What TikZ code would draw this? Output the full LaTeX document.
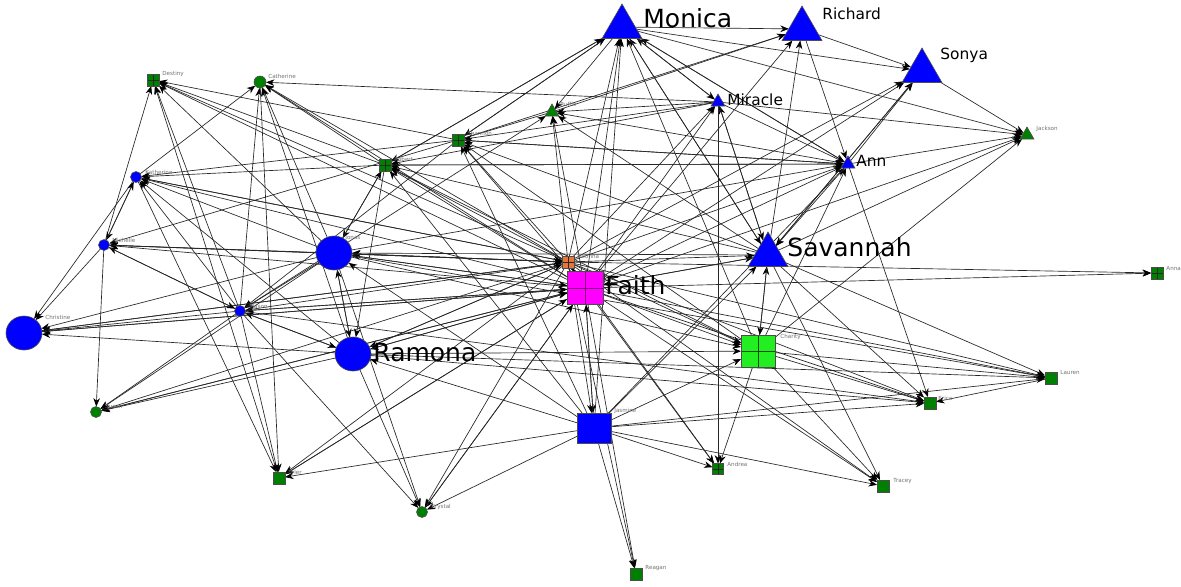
\documentclass[tikz,border=0pt]{standalone}
\usepackage{fontspec}
\setmainfont{DejaVu Sans}
\usetikzlibrary{shapes.geometric,arrows.meta}
\pgfdeclarelayer{bg}
\pgfsetlayers{bg,main}
\definecolor{bnode}{RGB}{0,0,255}
\definecolor{gnode}{RGB}{0,128,0}
\definecolor{mnode}{RGB}{255,0,255}
\definecolor{onode}{RGB}{232,117,58}
\definecolor{lnode}{RGB}{34,238,34}
\tikzset{
  xcross/.style={path picture={\draw[#1,line width=0.4pt] (path picture bounding box.north) -- (path picture bounding box.south) (path picture bounding box.west) -- (path picture bounding box.east);}},
  base/.style={inner sep=0pt, outer sep=0pt, draw=black!70, line width=0.3pt},
  sq/.style={base, rectangle, fill=gnode, minimum size=6pt},
  sqx/.style={sq, xcross=black!85},
  circ/.style={base, circle, minimum size=5.5pt},
  bigell/.style={base, ellipse, fill=bnode, minimum width=18pt, minimum height=17pt},
  bigtri/.style={base, regular polygon, regular polygon sides=3, fill=bnode, minimum size=23pt},
  smalltri/.style={base, regular polygon, regular polygon sides=3, minimum size=8pt},
  lnk/.style={draw=black!85, line width=0.33pt, -{Stealth[length=4.2pt,width=3.3pt,color=black]}},
  lblbig/.style={font=\fontsize{12.5}{14}\selectfont, inner sep=0pt, anchor=west},
  lblmed/.style={font=\fontsize{7.7}{9}\selectfont, inner sep=0pt, anchor=west},
  lbltiny/.style={font=\fontsize{2.8}{3}\selectfont, text=black!55, inner sep=0pt, anchor=west}
}
\begin{document}
\begin{tikzpicture}[x=0.5pt,y=-0.5pt]
\useasboundingbox (0,0) rectangle (1181,586);
% nodes
\node[bigtri] (monica) at (622,27) {};
\node[bigtri] (richard) at (802,29) {};
\node[bigtri] (sonya) at (922,71) {};
\node[bigtri] (savannah) at (768,255) {};
\node[smalltri, fill=bnode] (miracle) at (718,102) {};
\node[smalltri, fill=bnode] (ann) at (848,164) {};
\node[smalltri, fill=gnode] (jackson) at (1027,135) {};
\node[smalltri, fill=gnode] (ruffie) at (552,112) {};
\node[sqx] (shannon) at (458,140) {};
\node[sqx] (robert) at (385,165) {};
\node[sqx] (destiny) at (153,80) {};
\node[circ, fill=gnode, minimum size=6pt] (catherine) at (260,82) {};
\node[circ, fill=bnode] (katherine) at (136,177) {};
\node[circ, fill=bnode] (michelle) at (104,245) {};
\node[bigell] (christine) at (24,333) {};
\node[circ, fill=bnode] (mason) at (240,311) {};
\node[bigell] (jonas) at (334,253) {};
\node[bigell] (ramona) at (353,354) {};
\node[sqx, fill=onode] (deonna) at (568,262) {};
\node[base, rectangle, fill=mnode, minimum width=18pt, minimum height=16.5pt, xcross=black!50!mnode] (faith) at (585,288) {};
\node[base, rectangle, fill=lnode, minimum width=17pt, minimum height=16pt, xcross=black!40!gnode] (charity) at (758,351) {};
\node[base, rectangle, fill=bnode, minimum width=17pt, minimum height=15pt] (jasmine) at (594,428) {};
\node[sqx, minimum size=5.5pt] (andrea) at (718,469) {};
\node[sq] (tracey) at (883,486) {};
\node[sq] (erica) at (930,403) {};
\node[sq] (lauren) at (1051,378) {};
\node[sqx] (anna) at (1157,273) {};
\node[sq] (reagan) at (636,574) {};
\node[circ, fill=gnode] (krystal) at (422,512) {};
\node[sq] (tyler) at (279,478) {};
\node[circ, fill=gnode] (susan) at (96,412) {};
% labels
\node[lblbig] (lmonica) at (643,18) {Monica};
\node[lblbig] (lsavannah) at (787,247) {Savannah};
\node[lblbig] (lfaith) at (605,285) {Faith};
\node[lblbig] (lramona) at (373,353) {Ramona};
\node[lblmed] (lrichard) at (822,14) {Richard};
\node[lblmed] (lsonya) at (940,55) {Sonya};
\node[lblmed] (lmiracle) at (727,100) {Miracle};
\node[lblmed] (lann) at (856,161) {Ann};
\node[lbltiny] (ljackson) at (1036,129) {Jackson};
\node[lbltiny] (lruffie) at (560,104) {Ruffie};
\node[lbltiny] (lshannon) at (467,133) {Shannon};
\node[lbltiny] (lrobert) at (394,159) {Robert};
\node[lbltiny] (ldestiny) at (162,74) {Destiny};
\node[lbltiny] (lcatherine) at (268,76) {Catherine};
\node[lbltiny] (lkatherine) at (145,172) {Katherine};
\node[lbltiny] (lmichelle) at (112,240) {Michelle};
\node[lbltiny] (lchristine) at (45,317) {Christine};
\node[lbltiny] (lmason) at (249,306) {Mason};
\node[lbltiny] (ljonas) at (345,238) {Jonas};
\node[lbltiny] (ldeonna) at (577,256) {Deonna};
\node[lbltiny] (lcharity) at (780,337) {Charity};
\node[lbltiny] (ljasmine) at (614,411) {Jasmine};
\node[lbltiny] (landrea) at (727,464) {Andrea};
\node[lbltiny] (ltracey) at (893,481) {Tracey};
\node[lbltiny] (lerica) at (938,398) {Erica};
\node[lbltiny] (llauren) at (1060,372) {Lauren};
\node[lbltiny] (lanna) at (1166,268) {Anna};
\node[lbltiny] (lreagan) at (645,568) {Reagan};
\node[lbltiny] (lkrystal) at (431,507) {Krystal};
\node[lbltiny] (ltyler) at (288,473) {Tyler};
\node[lbltiny] (lsusan) at (105,406) {Susan};
% edges
\begin{pgfonlayer}{bg}
\fill[white] (0,0) rectangle (1181,586);
\foreach \a/\b in {
 michelle/destiny, mason/destiny, jonas/destiny, robert/destiny, shannon/destiny, deonna/destiny, faith/destiny, tyler/destiny,
 miracle/catherine, katherine/catherine, jonas/catherine, ramona/catherine, mason/catherine, faith/catherine, deonna/catherine, robert/catherine, catherine/tyler,
 robert/katherine, shannon/katherine, faith/katherine, deonna/katherine, jonas/katherine, mason/katherine, ramona/katherine, katherine/christine, katherine/michelle, michelle/katherine,
 deonna/michelle, faith/michelle, jonas/michelle, mason/michelle, michelle/christine, michelle/susan, ruffie/michelle,
 mason/christine, jonas/christine, faith/christine, deonna/christine, ramona/christine,
 jonas/mason, ramona/mason, faith/mason, deonna/mason, michelle/mason, mason/tyler, mason/krystal, mason/susan, mason/ramona, shannon/mason,
 deonna/jonas, faith/jonas, ramona/jonas, savannah/jonas, jonas/ramona, jonas/susan, robert/jonas, jonas/robert,
 faith/ramona, deonna/ramona, robert/ramona, ramona/susan, ramona/krystal, ramona/charity, ramona/lauren, ramona/erica, jasmine/ramona,
 faith/robert, deonna/robert, monica/robert, miracle/robert, ann/robert, savannah/robert, charity/robert, jasmine/robert,
 faith/shannon, deonna/shannon, savannah/shannon, ann/shannon, monica/shannon, miracle/shannon, jasmine/shannon, charity/shannon,
 faith/ruffie, deonna/ruffie, monica/ruffie, miracle/ruffie, savannah/ruffie, ann/ruffie, ruffie/richard, mason/ruffie,
 faith/monica, deonna/monica, savannah/monica, ann/monica, miracle/monica, jasmine/monica, charity/monica, robert/monica, shannon/monica,
 monica/richard, monica/sonya, monica/jackson, monica/ann,
 savannah/richard, shannon/richard, faith/richard, richard/sonya, richard/ann,
 ann/sonya, savannah/sonya, faith/sonya, deonna/sonya, sonya/jackson,
 faith/miracle, deonna/miracle, savannah/miracle, monica/miracle,
 miracle/jackson, miracle/ann, miracle/andrea, miracle/savannah,
 savannah/jackson, faith/jackson, ann/jackson, charity/jackson,
 faith/ann, deonna/ann, robert/ann, jasmine/ann, charity/ann, ann/erica, shannon/ann, jonas/ann,
 faith/savannah, deonna/savannah, ann/savannah, sonya/savannah, jasmine/savannah, charity/savannah, monica/savannah,
 savannah/charity, savannah/tracey, savannah/erica, savannah/lauren, savannah/faith,
 faith/anna, deonna/anna,
 faith/charity, deonna/charity, jasmine/charity, charity/erica, charity/lauren, charity/andrea, charity/tracey, jonas/charity,
 faith/erica, deonna/erica, jasmine/erica, lauren/erica, mason/erica,
 faith/lauren, deonna/lauren, jasmine/lauren, jonas/lauren,
 faith/tracey, deonna/tracey, jasmine/tracey,
 jasmine/andrea, faith/andrea, deonna/andrea,
 jasmine/reagan, faith/reagan, deonna/reagan,
 faith/jasmine, deonna/jasmine, jasmine/faith, jasmine/tyler, jasmine/krystal, jasmine/jonas,
 faith/krystal, deonna/krystal, jonas/krystal,
 faith/tyler, deonna/tyler, katherine/tyler,
 faith/susan, deonna/susan,
 deonna/faith, faith/deonna, christine/faith, ramona/faith, jonas/faith, mason/faith, tyler/faith, susan/faith, krystal/faith,
 christine/deonna, ramona/deonna, jonas/deonna, katherine/deonna, michelle/deonna}
 \draw[lnk] (\a) -- (\b);
\end{pgfonlayer}
\end{tikzpicture}
\end{document}
